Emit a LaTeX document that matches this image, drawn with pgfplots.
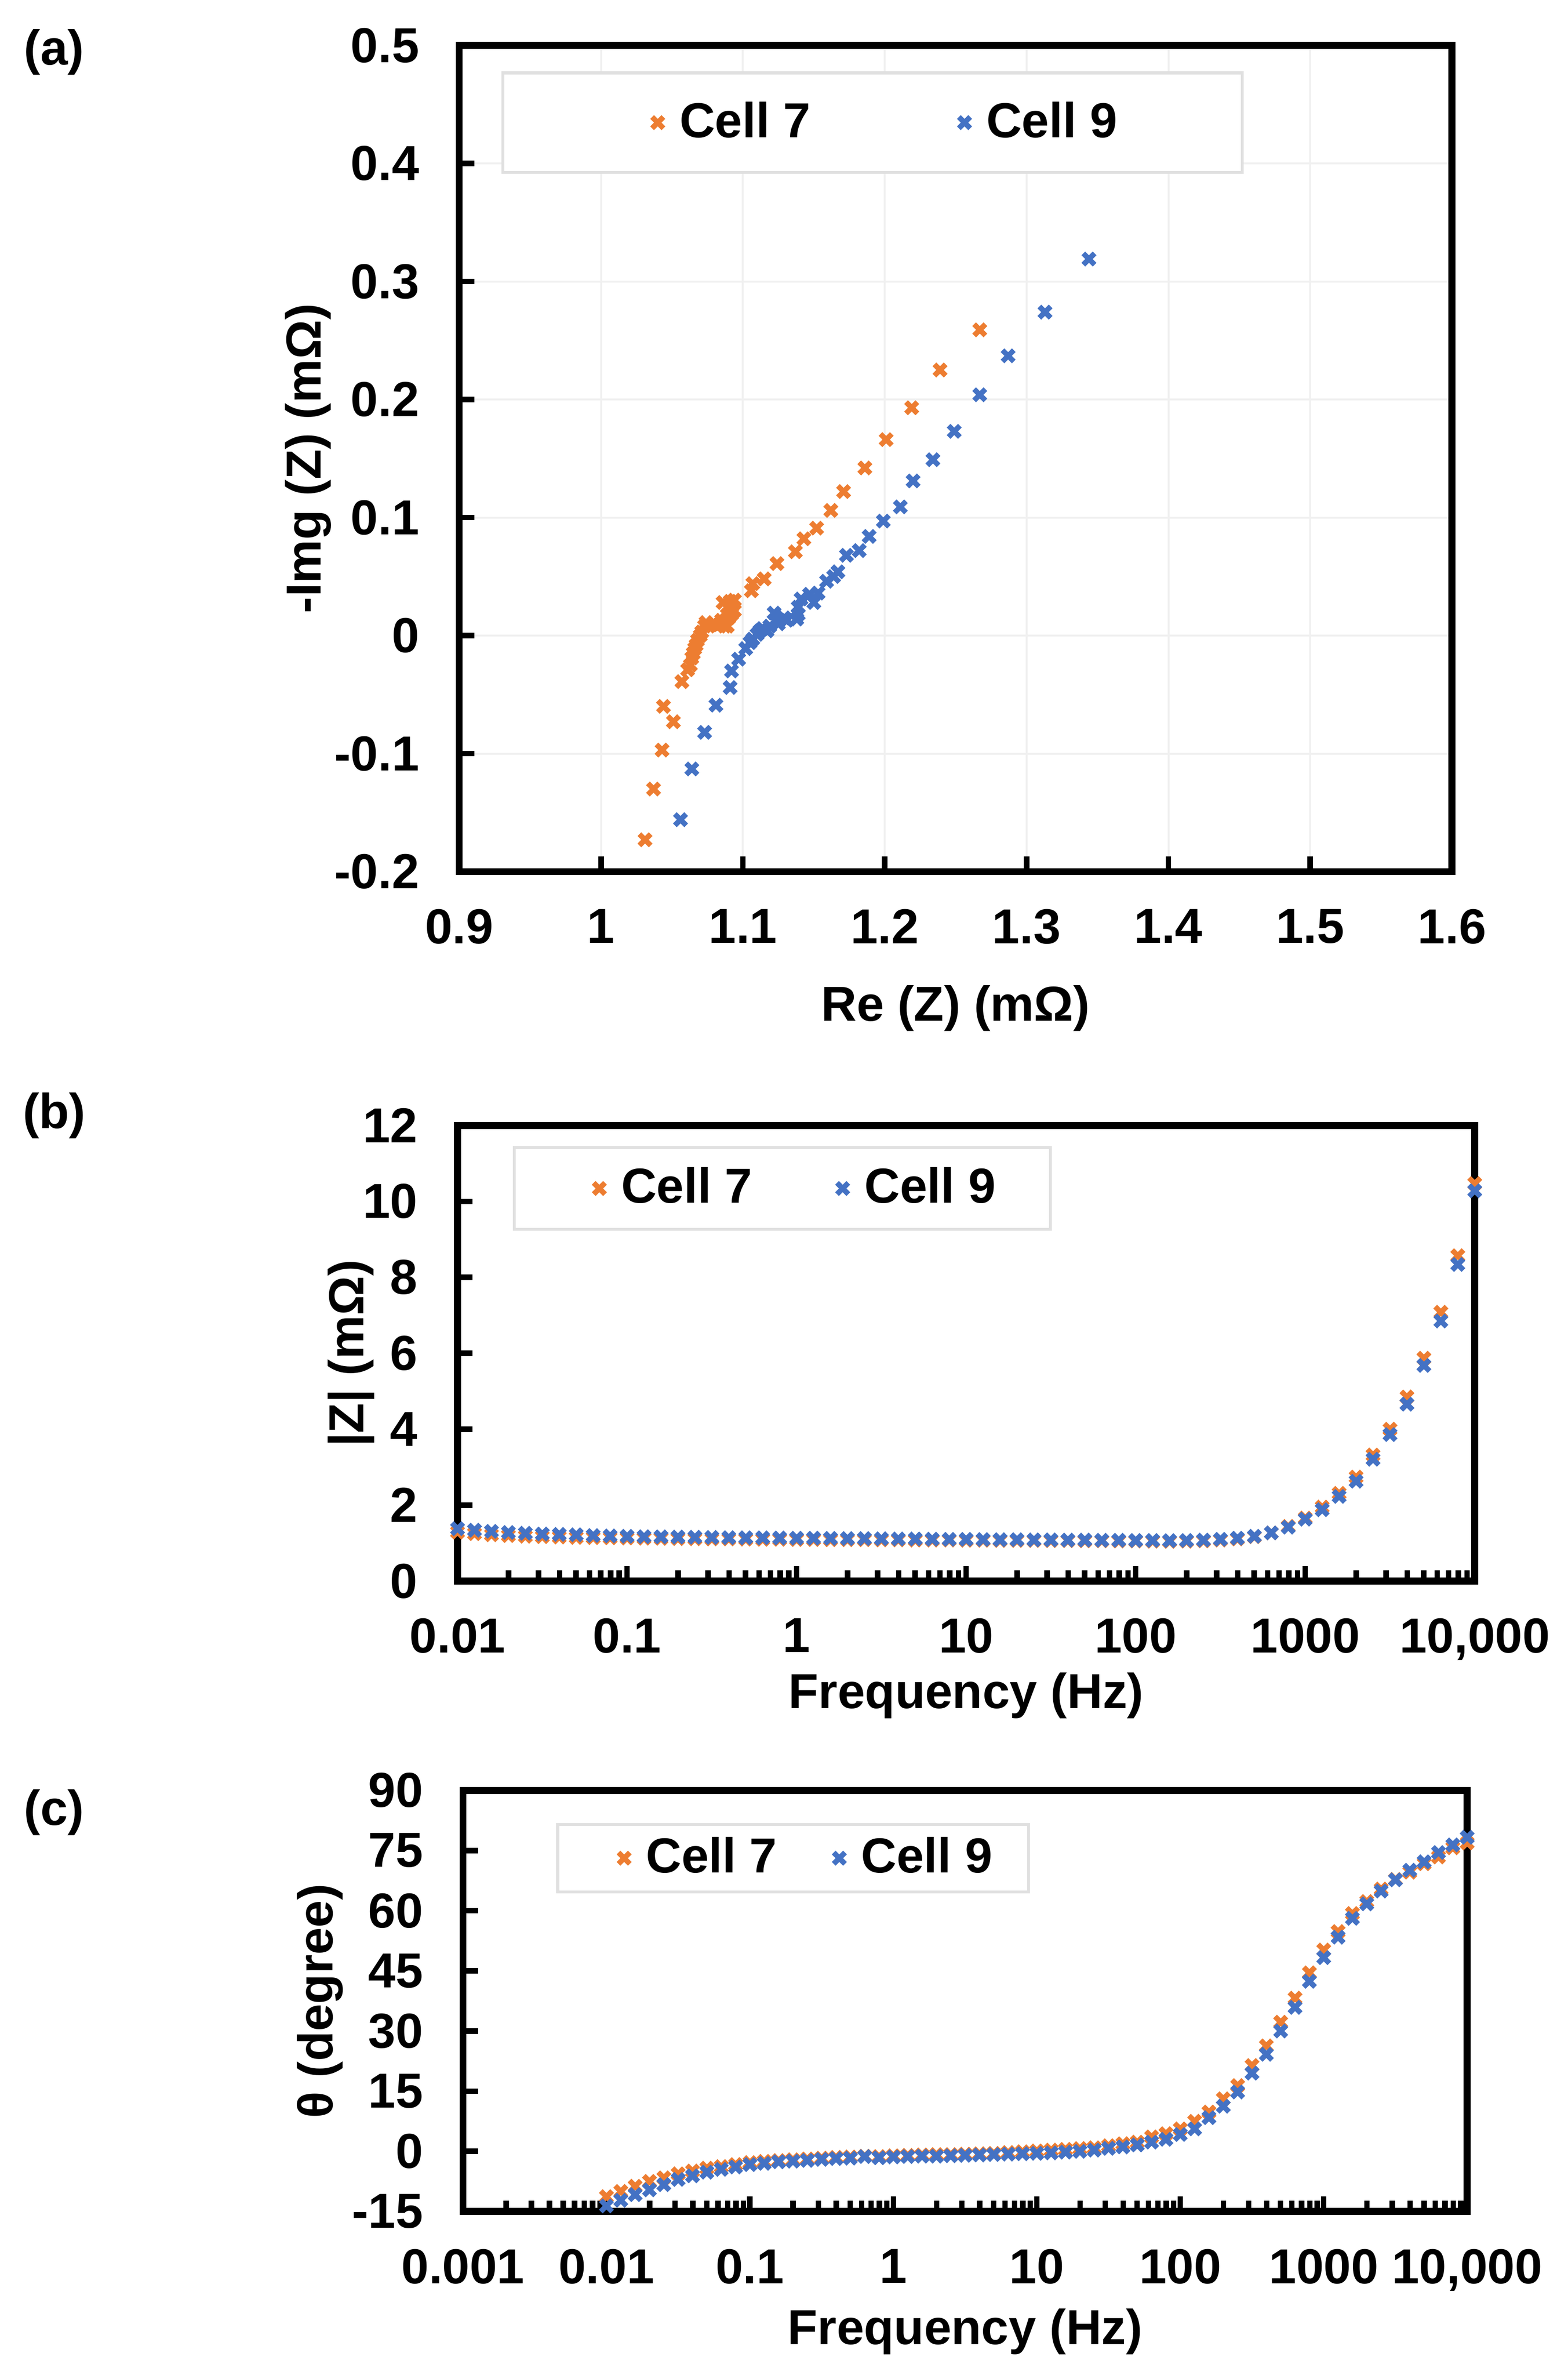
\documentclass[border=0pt]{standalone}
\usepackage{fontspec}
\setmainfont{Liberation Sans}
\usepackage{pgfplots}
\pgfplotsset{compat=1.18}
\usepackage{pgfplotstable}
\definecolor{c7}{HTML}{ED7D31}
\definecolor{c9}{HTML}{4472C4}
\newcommand{\lbl}{\fontsize{11.7}{14}\selectfont\bfseries}

\pgfplotstableread{
f z7 z9 t7 t9
0.01 1.29 1.38 -11.3 -13.6
0.012589 1.25 1.34 -10.0 -12.2
0.015849 1.22 1.31 -8.7 -10.8
0.019953 1.20 1.28 -7.5 -9.6
0.025119 1.18 1.26 -6.6 -8.3
0.031623 1.17 1.24 -5.6 -7.0
0.039811 1.16 1.23 -4.9 -6.1
0.050119 1.15 1.22 -4.2 -5.2
0.063096 1.145 1.20 -3.8 -4.5
0.079433 1.14 1.19 -3.3 -3.9
0.1 1.135 1.18 -2.8 -3.3
0.12589 1.13 1.17 -2.5 -3.0
0.15849 1.125 1.165 -2.3 -2.6
0.19953 1.12 1.16 -2.1 -2.45
0.25119 1.115 1.155 -1.9 -2.25
0.31623 1.11 1.15 -1.7 -2.0
0.39811 1.11 1.145 -1.5 -1.8
0.50119 1.105 1.14 -1.4 -1.7
0.63096 1.10 1.14 -1.2 -1.3
0.79433 1.10 1.135 -1.3 -1.6
1 1.095 1.13 -1.1 -1.4
1.2589 1.095 1.13 -1.0 -1.3
1.5849 1.09 1.125 -0.9 -1.2
1.9953 1.09 1.12 -0.8 -1.2
2.5119 1.09 1.12 -0.8 -1.1
3.1623 1.085 1.115 -0.7 -1.0
3.9811 1.085 1.11 -0.6 -0.9
5.0119 1.08 1.11 -0.5 -0.8
6.3096 1.08 1.105 -0.3 -0.7
7.9433 1.08 1.10 -0.1 -0.6
10 1.075 1.10 0.1 -0.5
12.589 1.075 1.095 0.3 -0.4
15.849 1.07 1.09 0.5 -0.2
19.953 1.07 1.09 0.7 0.0
25.119 1.07 1.085 0.9 0.3
31.623 1.065 1.085 1.4 0.75
39.811 1.065 1.08 1.9 1.1
50.119 1.06 1.08 2.3 1.6
63.096 1.06 1.075 3.6 2.3
79.433 1.055 1.075 4.4 3.0
100 1.055 1.07 5.6 4.2
125.89 1.05 1.07 7.5 5.6
158.49 1.045 1.065 9.8 8.4
199.53 1.05 1.07 13.1 11.25
251.19 1.06 1.08 16.4 14.8
316.23 1.08 1.10 21.4 19.5
398.11 1.11 1.13 26.3 24.2
501.19 1.17 1.18 32.2 30.0
630.96 1.27 1.27 38.2 35.9
794.33 1.44 1.42 44.5 42.4
1000 1.66 1.63 50.2 48.3
1258.9 1.95 1.88 54.8 53.4
1584.9 2.31 2.23 59.3 58.1
1995.3 2.74 2.63 62.3 61.7
2511.9 3.32 3.21 65.4 64.9
3162.3 4.00 3.86 67.8 67.7
3981.1 4.85 4.66 69.6 70.1
5011.9 5.87 5.68 71.7 72.2
6309.6 7.08 6.85 73.4 74.5
7943.3 8.57 8.34 75.7 76.4
10000 10.47 10.28 76.9 78.3
}\freqdata

\pgfplotsset{
  legend image code/.code={\path[draw=none,fill=none] (0pt,0pt) rectangle (12.4pt,0pt); \draw[#1,only marks] plot coordinates {(9.2pt,0pt)};},
  mystyle/.style={
    scale only axis,
    axis line style={line width=1.67pt, black},
    tick align=inside,
    xtick pos=bottom, ytick pos=left,
    major tick length=3.6pt, minor tick length=2.6pt,
    tick style={black, line width=1.3pt},
    tick label style={font=\lbl},
    xticklabel style={anchor=north, yshift=-5.4pt},
    yticklabel style={anchor=east, xshift=-6pt},
    label style={font=\lbl},
    clip=false,
    legend columns=2,
  },
  s7/.style={only marks, mark=x, mark size=1.9pt, color=c7, line width=1.25pt},
  s9/.style={only marks, mark=x, mark size=1.9pt, color=c9, line width=1.25pt},
}

\begin{document}
\begin{tikzpicture}
% ---------------- (a) ----------------
\begin{axis}[mystyle,
  at={(109.3pt,357.7pt)}, anchor=south west,
  width=236.3pt, height=196.6pt,
  xmin=0.9, xmax=1.6, ymin=-0.2, ymax=0.5,
  xtick={0.9,1.0,1.1,1.2,1.3,1.4,1.5,1.6},
  xticklabels={0.9,1,1.1,1.2,1.3,1.4,1.5,1.6},
  ytick={-0.2,-0.1,0,0.1,0.2,0.3,0.4,0.5},
  yticklabels={-0.2,-0.1,0,0.1,0.2,0.3,0.4,0.5},
  grid=major, major grid style={line width=0.45pt, black!6},
  xlabel={Re (Z) (mΩ)}, ylabel={-Img (Z) (mΩ)},
  xlabel style={at={(axis description cs:0.5,0)}, anchor=base, yshift=-35.5pt},
  ylabel style={at={(axis description cs:-0.1397,0.5)}, anchor=base},
  legend style={at={(0.0423,0.9685)}, anchor=north west, draw=black!12, line width=0.7pt,
    inner xsep=27.7pt, inner ysep=4.85pt, font=\lbl,
    /tikz/every even column/.append style={column sep=25.4pt}},
]
\addplot[s7] coordinates {
(1.031,-0.173) (1.037,-0.130) (1.043,-0.097) (1.044,-0.060) (1.051,-0.073)
(1.057,-0.039) (1.061,-0.029) (1.063,-0.025) (1.064,-0.019) (1.065,-0.015)
(1.066,-0.011) (1.067,-0.008) (1.068,-0.004) (1.070,0.000) (1.071,0.003)
(1.073,0.008) (1.074,0.011) (1.076,0.008) (1.079,0.010) (1.083,0.009)
(1.085,0.013) (1.087,0.008) (1.089,0.008) (1.088,0.013) (1.090,0.015)
(1.092,0.018) (1.094,0.021) (1.089,0.024) (1.091,0.029) (1.094,0.030)
(1.086,0.028) (1.106,0.038) (1.107,0.044) (1.115,0.048) (1.124,0.061)
(1.137,0.071) (1.143,0.082) (1.152,0.091) (1.162,0.106) (1.171,0.122)
(1.186,0.142) (1.201,0.166) (1.219,0.193) (1.239,0.225) (1.267,0.259)
};
\addlegendentry{Cell 7}
\addplot[s9] coordinates {
(1.056,-0.156) (1.064,-0.113) (1.073,-0.082) (1.081,-0.059) (1.091,-0.044)
(1.092,-0.030) (1.097,-0.020) (1.102,-0.011) (1.105,-0.006) (1.107,-0.003)
(1.110,0.001) (1.112,0.004) (1.114,0.006) (1.117,0.004) (1.119,0.008)
(1.122,0.019) (1.123,0.013) (1.125,0.010) (1.129,0.015) (1.131,0.013)
(1.138,0.014) (1.139,0.018) (1.139,0.024) (1.141,0.031) (1.147,0.035)
(1.150,0.028) (1.153,0.036) (1.159,0.046) (1.164,0.050) (1.167,0.054)
(1.173,0.068) (1.182,0.072) (1.189,0.084) (1.199,0.097) (1.211,0.109)
(1.220,0.131) (1.234,0.149) (1.249,0.173) (1.267,0.204) (1.287,0.237)
(1.313,0.274) (1.344,0.319)
};
\addlegendentry{Cell 9}
\end{axis}

% ---------------- (b) ----------------
\begin{axis}[mystyle,
  at={(108.9pt,188.9pt)}, anchor=south west,
  width=242.1pt, height=108.4pt,
  xmode=log, xmin=0.01, xmax=10000, ymin=0, ymax=12,
  xtick={0.01,0.1,1,10,100,1000,10000},
  xticklabels={0.01,0.1,1,10,100,1000,{10,000}},
  minor xtick={0.02,0.03,0.04,0.05,0.06,0.07,0.08,0.09,
    0.2,0.3,0.4,0.5,0.6,0.7,0.8,0.9,2,3,4,5,6,7,8,9,
    20,30,40,50,60,70,80,90,200,300,400,500,600,700,800,900,
    2000,3000,4000,5000,6000,7000,8000,9000},
  ytick={0,2,4,6,8,10,12},
  yticklabels={0,2,4,6,8,10,12},
  xlabel={Frequency (Hz)}, ylabel={|Z| (mΩ)},
  xlabel style={at={(axis description cs:0.5,0)}, anchor=base, yshift=-30.3pt},
  ylabel style={at={(axis description cs:-0.0925,0.5)}, anchor=base},
  legend style={at={(0.0545,0.9548)}, anchor=north west, draw=black!12, line width=0.7pt,
    inner xsep=11.0pt, inner ysep=2.75pt, font=\lbl,
    /tikz/every even column/.append style={column sep=10.3pt}},
]
\addplot[s7] table[x=f, y=z7] {\freqdata};
\addlegendentry{Cell 7}
\addplot[s9] table[x=f, y=z9] {\freqdata};
\addlegendentry{Cell 9}
\end{axis}

% ---------------- (c) ----------------
\begin{axis}[mystyle,
  at={(110.2pt,38.9pt)}, anchor=south west,
  width=239.0pt, height=100.2pt,
  xmode=log, xmin=0.001, xmax=10000, ymin=-15, ymax=90,
  xtick={0.001,0.01,0.1,1,10,100,1000,10000},
  xticklabels={0.001,0.01,0.1,1,10,100,1000,{10,000}},
  minor xtick={0.002,0.003,0.004,0.005,0.006,0.007,0.008,0.009,
    0.02,0.03,0.04,0.05,0.06,0.07,0.08,0.09,
    0.2,0.3,0.4,0.5,0.6,0.7,0.8,0.9,2,3,4,5,6,7,8,9,
    20,30,40,50,60,70,80,90,200,300,400,500,600,700,800,900,
    2000,3000,4000,5000,6000,7000,8000,9000},
  ytick={-15,0,15,30,45,60,75,90},
  yticklabels={-15,0,15,30,45,60,75,90},
  xlabel={Frequency (Hz)}, ylabel={θ (degree)},
  xlabel style={at={(axis description cs:0.5,0)}, anchor=base, yshift=-31.6pt},
  ylabel style={at={(axis description cs:-0.1297,0.5)}, anchor=base},
  legend style={at={(0.0929,0.9222)}, anchor=north west, draw=black!12, line width=0.7pt,
    inner xsep=6.6pt, inner ysep=1.0pt, font=\lbl,
    /tikz/every even column/.append style={column sep=3.6pt}},
]
\addplot[s7] table[x=f, y=t7] {\freqdata};
\addlegendentry{Cell 7}
\addplot[s9] table[x=f, y=t9] {\freqdata};
\addlegendentry{Cell 9}
\end{axis}

\node[font=\lbl, anchor=center] at (12.9pt,552.7pt) {(a)};
\node[font=\lbl, anchor=center] at (12.9pt,299.6pt) {(b)};
\node[font=\lbl, anchor=center] at (12.9pt,133.8pt) {(c)};

\pgfresetboundingbox
\path[use as bounding box] (0,0) rectangle (373.1pt,565.1pt);
\end{tikzpicture}
\end{document}
